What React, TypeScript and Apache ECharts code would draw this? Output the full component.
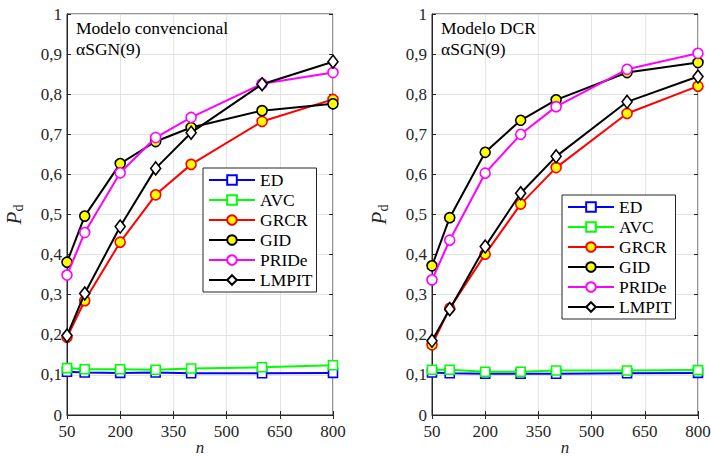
import React, { useEffect, useRef } from "react";
import * as echarts from "echarts";

const nValues = [50, 100, 200, 300, 400, 600, 800];

const seriesNames = ["ED", "AVC", "GRCR", "GID", "PRIDe", "LMPIT"];

// Modelo convencional
const convED = [0.108, 0.106, 0.105, 0.106, 0.104, 0.104, 0.105];
const convAVC = [0.117, 0.114, 0.114, 0.113, 0.116, 0.119, 0.124];
const convGRCR = [0.194, 0.285, 0.431, 0.549, 0.625, 0.732, 0.787];
const convGID = [0.381, 0.496, 0.627, 0.682, 0.717, 0.759, 0.776];
const convPRIDe = [0.349, 0.455, 0.604, 0.692, 0.742, 0.826, 0.854];
const convLMPIT = [0.198, 0.303, 0.47, 0.615, 0.704, 0.825, 0.881];

// Modelo DCR
const dcrED = [0.106, 0.104, 0.103, 0.103, 0.103, 0.104, 0.105];
const dcrAVC = [0.113, 0.113, 0.108, 0.108, 0.111, 0.111, 0.112];
const dcrGRCR = [0.175, 0.266, 0.401, 0.526, 0.617, 0.752, 0.82];
const dcrGID = [0.372, 0.492, 0.655, 0.735, 0.786, 0.854, 0.879];
const dcrPRIDe = [0.337, 0.436, 0.603, 0.7, 0.769, 0.862, 0.902];
const dcrLMPIT = [0.185, 0.264, 0.42, 0.553, 0.645, 0.781, 0.844];

const panelTitles = ["Modelo convencional\nαSGN(9)", "Modelo DCR\nαSGN(9)"];

const FONT = "Liberation Serif";
const AXIS_COLOR = "#262626";

const styles: Record<string, any> = {
  ED: { line: "#0000ff", fill: "#ffffff", symbol: "rect", size: 9 },
  AVC: { line: "#00ff00", fill: "#ffffff", symbol: "rect", size: 9 },
  GRCR: { line: "#ff0000", fill: "#ffff00", symbol: "circle", size: 10 },
  GID: { line: "#000000", fill: "#ffff00", symbol: "circle", size: 10 },
  PRIDe: { line: "#ff00ff", fill: "#ffffff", symbol: "circle", size: 10 },
  LMPIT: { line: "#000000", fill: "#ffffff", symbol: "diamond", size: [10, 13] },
};

const panels = [
  [convED, convAVC, convGRCR, convGID, convPRIDe, convLMPIT],
  [dcrED, dcrAVC, dcrGRCR, dcrGID, dcrPRIDe, dcrLMPIT],
];

const yFmt = (v: number) => {
  if (v === 0) return "0";
  if (Math.abs(v - 1) < 1e-9) return "1";
  return v.toFixed(1).replace(".", ",");
};

export default function App() {
  const ref = useRef<HTMLDivElement>(null);
  useEffect(() => {
    if (!ref.current) return;
    const chart = echarts.init(ref.current, null, { renderer: "svg" });

    const grids = [
      { left: 67, right: 378, top: 14, bottom: 42 },
      { left: 432, right: 13, top: 14, bottom: 42 },
    ].map((g) => ({
      ...g,
      show: true,
      borderColor: AXIS_COLOR,
      borderWidth: 1,
      backgroundColor: "#fff",
      containLabel: false,
      outerBoundsMode: "none",
    }));

    const xAxes: any[] = [];
    const yAxes: any[] = [];
    [0, 1].forEach((gi) => {
      xAxes.push({
        type: "value",
        gridIndex: gi,
        min: 50,
        max: 800,
        interval: 150,
        position: "bottom",
        name: "n",
        nameLocation: "middle",
        nameGap: 24,
        nameMoveOverlap: false,
        nameTextStyle: { fontFamily: FONT, fontStyle: "italic", fontSize: 17, color: AXIS_COLOR },
        axisLine: { show: true, lineStyle: { color: AXIS_COLOR, width: 1 } },
        axisTick: { show: true, inside: true, length: 4, lineStyle: { color: AXIS_COLOR } },
        axisLabel: { fontFamily: FONT, fontSize: 17, color: AXIS_COLOR, margin: 8, showMinLabel: true, showMaxLabel: true },
        splitLine: { show: true, lineStyle: { color: "#e3e3e3", width: 1 } },
      });
      xAxes.push({
        type: "value",
        gridIndex: gi,
        min: 50,
        max: 800,
        interval: 150,
        position: "top",
        axisLine: { show: false },
        axisTick: { show: true, inside: true, length: 4, lineStyle: { color: AXIS_COLOR } },
        axisLabel: { show: false },
        splitLine: { show: false },
      });
      yAxes.push({
        type: "value",
        gridIndex: gi,
        min: 0,
        max: 1,
        interval: 0.1,
        position: "left",
        name: "{p|P}{d|d}",
        nameLocation: "middle",
        nameGap: 42,
        nameRotate: 90,
        nameMoveOverlap: false,
        nameTextStyle: {
          color: AXIS_COLOR,
          rich: {
            p: { fontFamily: FONT, fontStyle: "italic", fontSize: 21, color: AXIS_COLOR },
            d: { fontFamily: FONT, fontSize: 14, color: AXIS_COLOR, padding: [8, 0, 0, 0] },
          },
        },
        axisLine: { show: true, lineStyle: { color: AXIS_COLOR, width: 1 } },
        axisTick: { show: true, inside: true, length: 4, lineStyle: { color: AXIS_COLOR } },
        axisLabel: { fontFamily: FONT, fontSize: 17, color: AXIS_COLOR, margin: 5, formatter: yFmt },
        splitLine: { show: true, lineStyle: { color: "#e3e3e3", width: 1 } },
      });
      yAxes.push({
        type: "value",
        gridIndex: gi,
        min: 0,
        max: 1,
        interval: 0.1,
        position: "right",
        axisLine: { show: false },
        axisTick: { show: true, inside: true, length: 4, lineStyle: { color: AXIS_COLOR } },
        axisLabel: { show: false },
        splitLine: { show: false },
      });
    });

    const series: any[] = [];
    panels.forEach((arrs, gi) => {
      arrs.forEach((arr, si) => {
        const name = seriesNames[si];
        const st = styles[name];
        series.push({
          type: "line",
          name,
          xAxisIndex: gi * 2,
          yAxisIndex: gi * 2,
          data: nValues.map((n, i) => [n, arr[i]]),
          symbol: st.symbol,
          symbolSize: st.size,
          showAllSymbol: true,
          lineStyle: { color: st.line, width: 2 },
          itemStyle: { color: st.fill, borderColor: st.line, borderWidth: 1.6, opacity: 1 },
          emphasis: { disabled: true },
          z: 2 + si,
        });
      });
    });

    const legendBase = {
      orient: "vertical",
      data: seriesNames,
      itemWidth: 46,
      itemHeight: 12,
      itemGap: 2,
      padding: [3, 4, 3, 5],
      backgroundColor: "#fff",
      borderColor: AXIS_COLOR,
      borderWidth: 1,
      borderRadius: 0,
      selectedMode: false,
      textStyle: { fontFamily: FONT, fontSize: 17.5, color: "#000" },
    };

    chart.setOption({
      animation: false,
      backgroundColor: "#fff",
      textStyle: { fontFamily: FONT },
      title: panelTitles.map((t, i) => ({
        text: t,
        left: i === 0 ? 76 : 441,
        top: 17,
        padding: 0,
        textStyle: { fontFamily: FONT, fontSize: 17.5, fontWeight: "normal", color: "#000", lineHeight: 21 },
      })),
      legend: [
        { ...legendBase, left: 203, top: 168 },
        { ...legendBase, left: 562, top: 195 },
      ],
      grid: grids,
      xAxis: xAxes,
      yAxis: yAxes,
      series,
    });
    return () => chart.dispose();
  }, []);
  return (
    <div
      ref={ref}
      style={{ position: "fixed", left: 0, top: 0, width: 711, height: 457, background: "#fff" }}
    />
  );
}
